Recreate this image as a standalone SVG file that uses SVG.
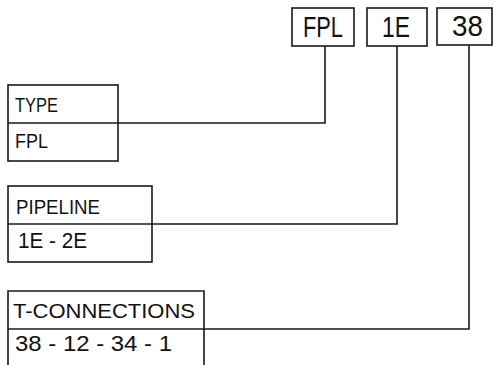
<svg xmlns="http://www.w3.org/2000/svg" width="494" height="365" viewBox="0 0 494 365">
<style>
.box{fill:none;stroke:#1a1a1a;stroke-width:1.6}
.con{fill:none;stroke:#1a1a1a;stroke-width:1.6}
.t{font-family:"Liberation Sans",Arial,sans-serif;fill:#111}
.big{font-size:30px}
.lbl{font-size:20px}
.val{font-size:22px}
</style>
<rect width="494" height="365" fill="#fff"/>
<g id="connectors">
<path class="con" d="M118,123 H325 V46"/>
<path class="con" d="M152,224 H397 V46"/>
<path class="con" d="M204,329 H469 V45"/>
</g>
<g id="tag-fpl">
<rect class="box" x="292" y="8" width="62" height="38"/>
<text class="t big" x="303" y="37" textLength="40" lengthAdjust="spacingAndGlyphs">FPL</text>
</g>
<g id="tag-1e">
<rect class="box" x="367" y="8" width="60" height="38"/>
<text class="t big" x="382" y="37" textLength="28" lengthAdjust="spacingAndGlyphs">1E</text>
</g>
<g id="tag-38">
<rect class="box" x="437" y="8" width="55" height="37"/>
<text class="t big" x="452" y="36" textLength="31" lengthAdjust="spacingAndGlyphs">38</text>
</g>
<g id="type">
<rect class="box" x="8" y="85" width="110" height="76"/>
<line class="box" x1="8" y1="123" x2="118" y2="123"/>
<text class="t lbl" x="15" y="112" textLength="43" lengthAdjust="spacingAndGlyphs">TYPE</text>
<text class="t lbl" x="15" y="148" textLength="33" lengthAdjust="spacingAndGlyphs">FPL</text>
</g>
<g id="pipeline">
<rect class="box" x="8" y="186" width="144" height="76"/>
<line class="box" x1="8" y1="224" x2="152" y2="224"/>
<text class="t lbl" x="16" y="214" textLength="84" lengthAdjust="spacingAndGlyphs">PIPELINE</text>
<text class="t val" x="18" y="248" textLength="69" lengthAdjust="spacingAndGlyphs">1E - 2E</text>
</g>
<g id="t-connections">
<path class="box" d="M8,365 V291 H204 V365"/>
<line class="box" x1="8" y1="329" x2="204" y2="329"/>
<text class="t lbl" x="13" y="318" textLength="182" lengthAdjust="spacingAndGlyphs">T-CONNECTIONS</text>
<text class="t val" x="15" y="351" textLength="157" lengthAdjust="spacingAndGlyphs">38 - 12 - 34 - 1</text>
</g>
</svg>
